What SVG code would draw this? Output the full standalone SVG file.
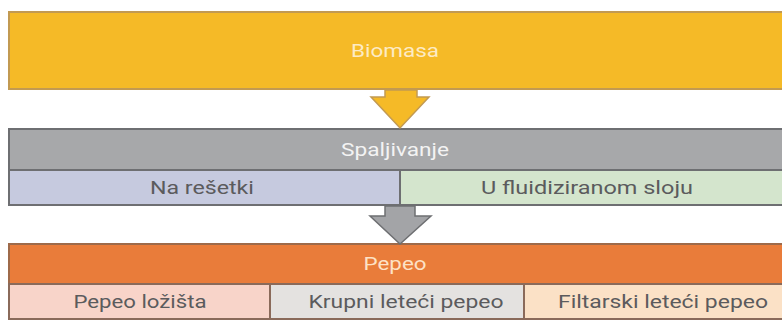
<svg xmlns="http://www.w3.org/2000/svg" width="782" height="321" viewBox="0 0 782 321">
  <style>
    .t { font-family: "Liberation Sans Narrow", "Roboto", "Liberation Sans", sans-serif; text-anchor: middle; }
    .hd { font-size: 19px; }
    .sb { font-size: 18px; fill: #5b5b5d; }
    .bx { stroke-width: 2; }
  </style>
  <rect width="782" height="321" fill="#ffffff"/>

  <g id="biomasa">
    <rect class="bx" x="9" y="12" width="776" height="77" fill="#F5BA27" stroke="#C29A52"/>
    <text class="t hd" x="395" y="57" fill="#FDEBC4" textLength="88" lengthAdjust="spacingAndGlyphs">Biomasa</text>
  </g>

  <g id="spaljivanje">
    <rect class="bx" x="9" y="129" width="776" height="41" fill="#A7A8AA" stroke="#6E6F72"/>
    <text class="t hd" x="395" y="156" fill="#F3F3F3" textLength="108" lengthAdjust="spacingAndGlyphs">Spaljivanje</text>
  </g>

  <g id="na-resetki">
    <rect class="bx" x="9" y="170" width="391" height="35" fill="#C6CADF" stroke="#6E6F72"/>
    <text class="t sb" x="202" y="194" textLength="104" lengthAdjust="spacingAndGlyphs">Na rešetki</text>
  </g>

  <g id="fluidizirani-sloj">
    <rect class="bx" x="400" y="170" width="385" height="35" fill="#D4E5CD" stroke="#6E6F72"/>
    <text class="t sb" x="587" y="194" textLength="212" lengthAdjust="spacingAndGlyphs">U fluidiziranom sloju</text>
  </g>

  <g id="pepeo">
    <rect class="bx" x="9" y="244" width="776" height="40" fill="#E97C3A" stroke="#9E6A4A"/>
    <text class="t hd" x="395" y="270" fill="#FDE2C6" textLength="63" lengthAdjust="spacingAndGlyphs">Pepeo</text>
  </g>

  <g id="pepeo-lozista">
    <rect class="bx" x="9" y="284" width="261" height="35" fill="#F8D4C9" stroke="#8A6A5A"/>
    <text class="t sb" x="140" y="308" textLength="133" lengthAdjust="spacingAndGlyphs">Pepeo ložišta</text>
  </g>

  <g id="krupni-leteci-pepeo">
    <rect class="bx" x="270" y="284" width="254" height="35" fill="#E4E2E0" stroke="#8A6A5A"/>
    <text class="t sb" x="406" y="308" textLength="195" lengthAdjust="spacingAndGlyphs">Krupni leteći pepeo</text>
  </g>

  <g id="filtarski-leteci-pepeo">
    <rect class="bx" x="524" y="284" width="261" height="35" fill="#FBE1C6" stroke="#8A6A5A"/>
    <text class="t sb" x="663" y="308" textLength="210" lengthAdjust="spacingAndGlyphs">Filtarski leteći pepeo</text>
  </g>

  <g id="connectors">
    <polygon points="385,90 417,90 417,97 429,97 400,128 371,97 385,97" fill="#F5BA27" stroke="#C29A52" stroke-width="1.5" stroke-linejoin="miter"/>
    <polygon points="385,206 415,206 415,216 431,216 400,244 370,216 385,216" fill="#A3A4A7" stroke="#6E6F72" stroke-width="1.5" stroke-linejoin="miter"/>
  </g>
</svg>
